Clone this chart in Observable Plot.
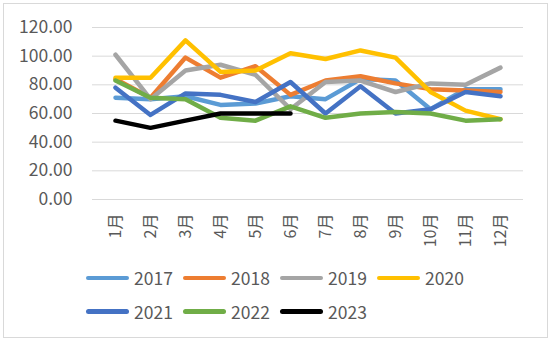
<!DOCTYPE html>
<html><head><meta charset="utf-8">
<script src="https://cdn.jsdelivr.net/npm/d3@7"></script>
<script src="https://cdn.jsdelivr.net/npm/@observablehq/plot@0.6"></script>
<style>
body{margin:0;background:#fff;}
#wrap{position:relative;width:550px;height:341px;overflow:hidden;font-family:"Noto Sans CJK SC",sans-serif;background:#fff;}
#frame{position:absolute;left:3px;top:3px;width:545px;height:335px;border:1px solid #d9d9d9;box-sizing:border-box;}
#chart{position:absolute;left:0;top:0;}
#legend{position:absolute;left:86px;top:261px;width:420px;}
.row{display:flex;height:33.5px;align-items:center;}
.item{display:flex;align-items:center;width:97px;}
.sw{width:43px;height:4.5px;border-radius:3px;margin-right:5px;}
.lb{font-size:17.5px;color:#595959;line-height:1;}
</style>
</head><body>
<div id="wrap"><div id="frame"></div><div id="chart"></div><div id="legend"></div></div>
<script>
const months = ["1月","2月","3月","4月","5月","6月","7月","8月","9月","10月","11月","12月"];
const years = ["2017","2018","2019","2020","2021","2022","2023"];
const colors = ["#5B9BD5","#ED7D31","#A5A5A5","#FFC000","#4472C4","#70AD47","#000000"];
const yTicks = [0,20,40,60,80,100,120];
const v2017 = [71,70,72,66,67,72,70,84,83,63,77,77];
const v2018 = [84,71,99,85,93,73,83,86,81,77,76,75];
const v2019 = [101,70,90,94,87,63,82,83,75,81,80,92];
const v2020 = [85,85,111,89,90,102,98,104,99,75,62,56];
const v2021 = [78,59,74,73,68,82,60,79,60,63,75,72];
const v2022 = [83,71,70,57,55,65,57,60,61,60,55,56];
const v2023 = [55,50,55,60,60,60];
const series = [v2017,v2018,v2019,v2020,v2021,v2022,v2023];

const data = [];
years.forEach((yr,i) => series[i].forEach((v,j) => data.push({year: yr, month: months[j], value: v})));

const chart = Plot.plot({
  width: 550, height: 262,
  marginTop: 27, marginBottom: 63, marginLeft: 92, marginRight: 27,
  style: {fontFamily: '"Noto Sans CJK SC", sans-serif', color: "#595959", background: "transparent", overflow: "visible"},
  x: {type: "point", domain: months, padding: 0.5},
  y: {domain: [0, 120]},
  color: {domain: years, range: colors},
  marks: [
    Plot.gridY(yTicks, {stroke: "#d9d9d9", strokeOpacity: 1, strokeWidth: 1}),
    Plot.axisY(yTicks, {tickSize: 0, tickPadding: 20, tickFormat: d3.format(".2f"), fontSize: 17.5, label: null, fill: "#595959"}),
    Plot.axisX({tickSize: 0, tickPadding: 14, tickRotate: -90, fontSize: 16, label: null, fill: "#595959"}),
    Plot.line(data, {x: "month", y: "value", z: "year", stroke: "year", strokeWidth: 4.5, strokeLinejoin: "round", strokeLinecap: "round"})
  ]
});
document.getElementById("chart").appendChild(chart);

const legend = document.getElementById("legend");
const rows = [years.slice(0,4), years.slice(4)];
rows.forEach(r => {
  const row = document.createElement("div"); row.className = "row";
  r.forEach(yr => {
    const it = document.createElement("div"); it.className = "item";
    const sw = document.createElement("div"); sw.className = "sw"; sw.style.background = colors[years.indexOf(yr)];
    const lb = document.createElement("span"); lb.className = "lb"; lb.textContent = yr;
    it.appendChild(sw); it.appendChild(lb); row.appendChild(it);
  });
  legend.appendChild(row);
});
</script>
</body></html>
